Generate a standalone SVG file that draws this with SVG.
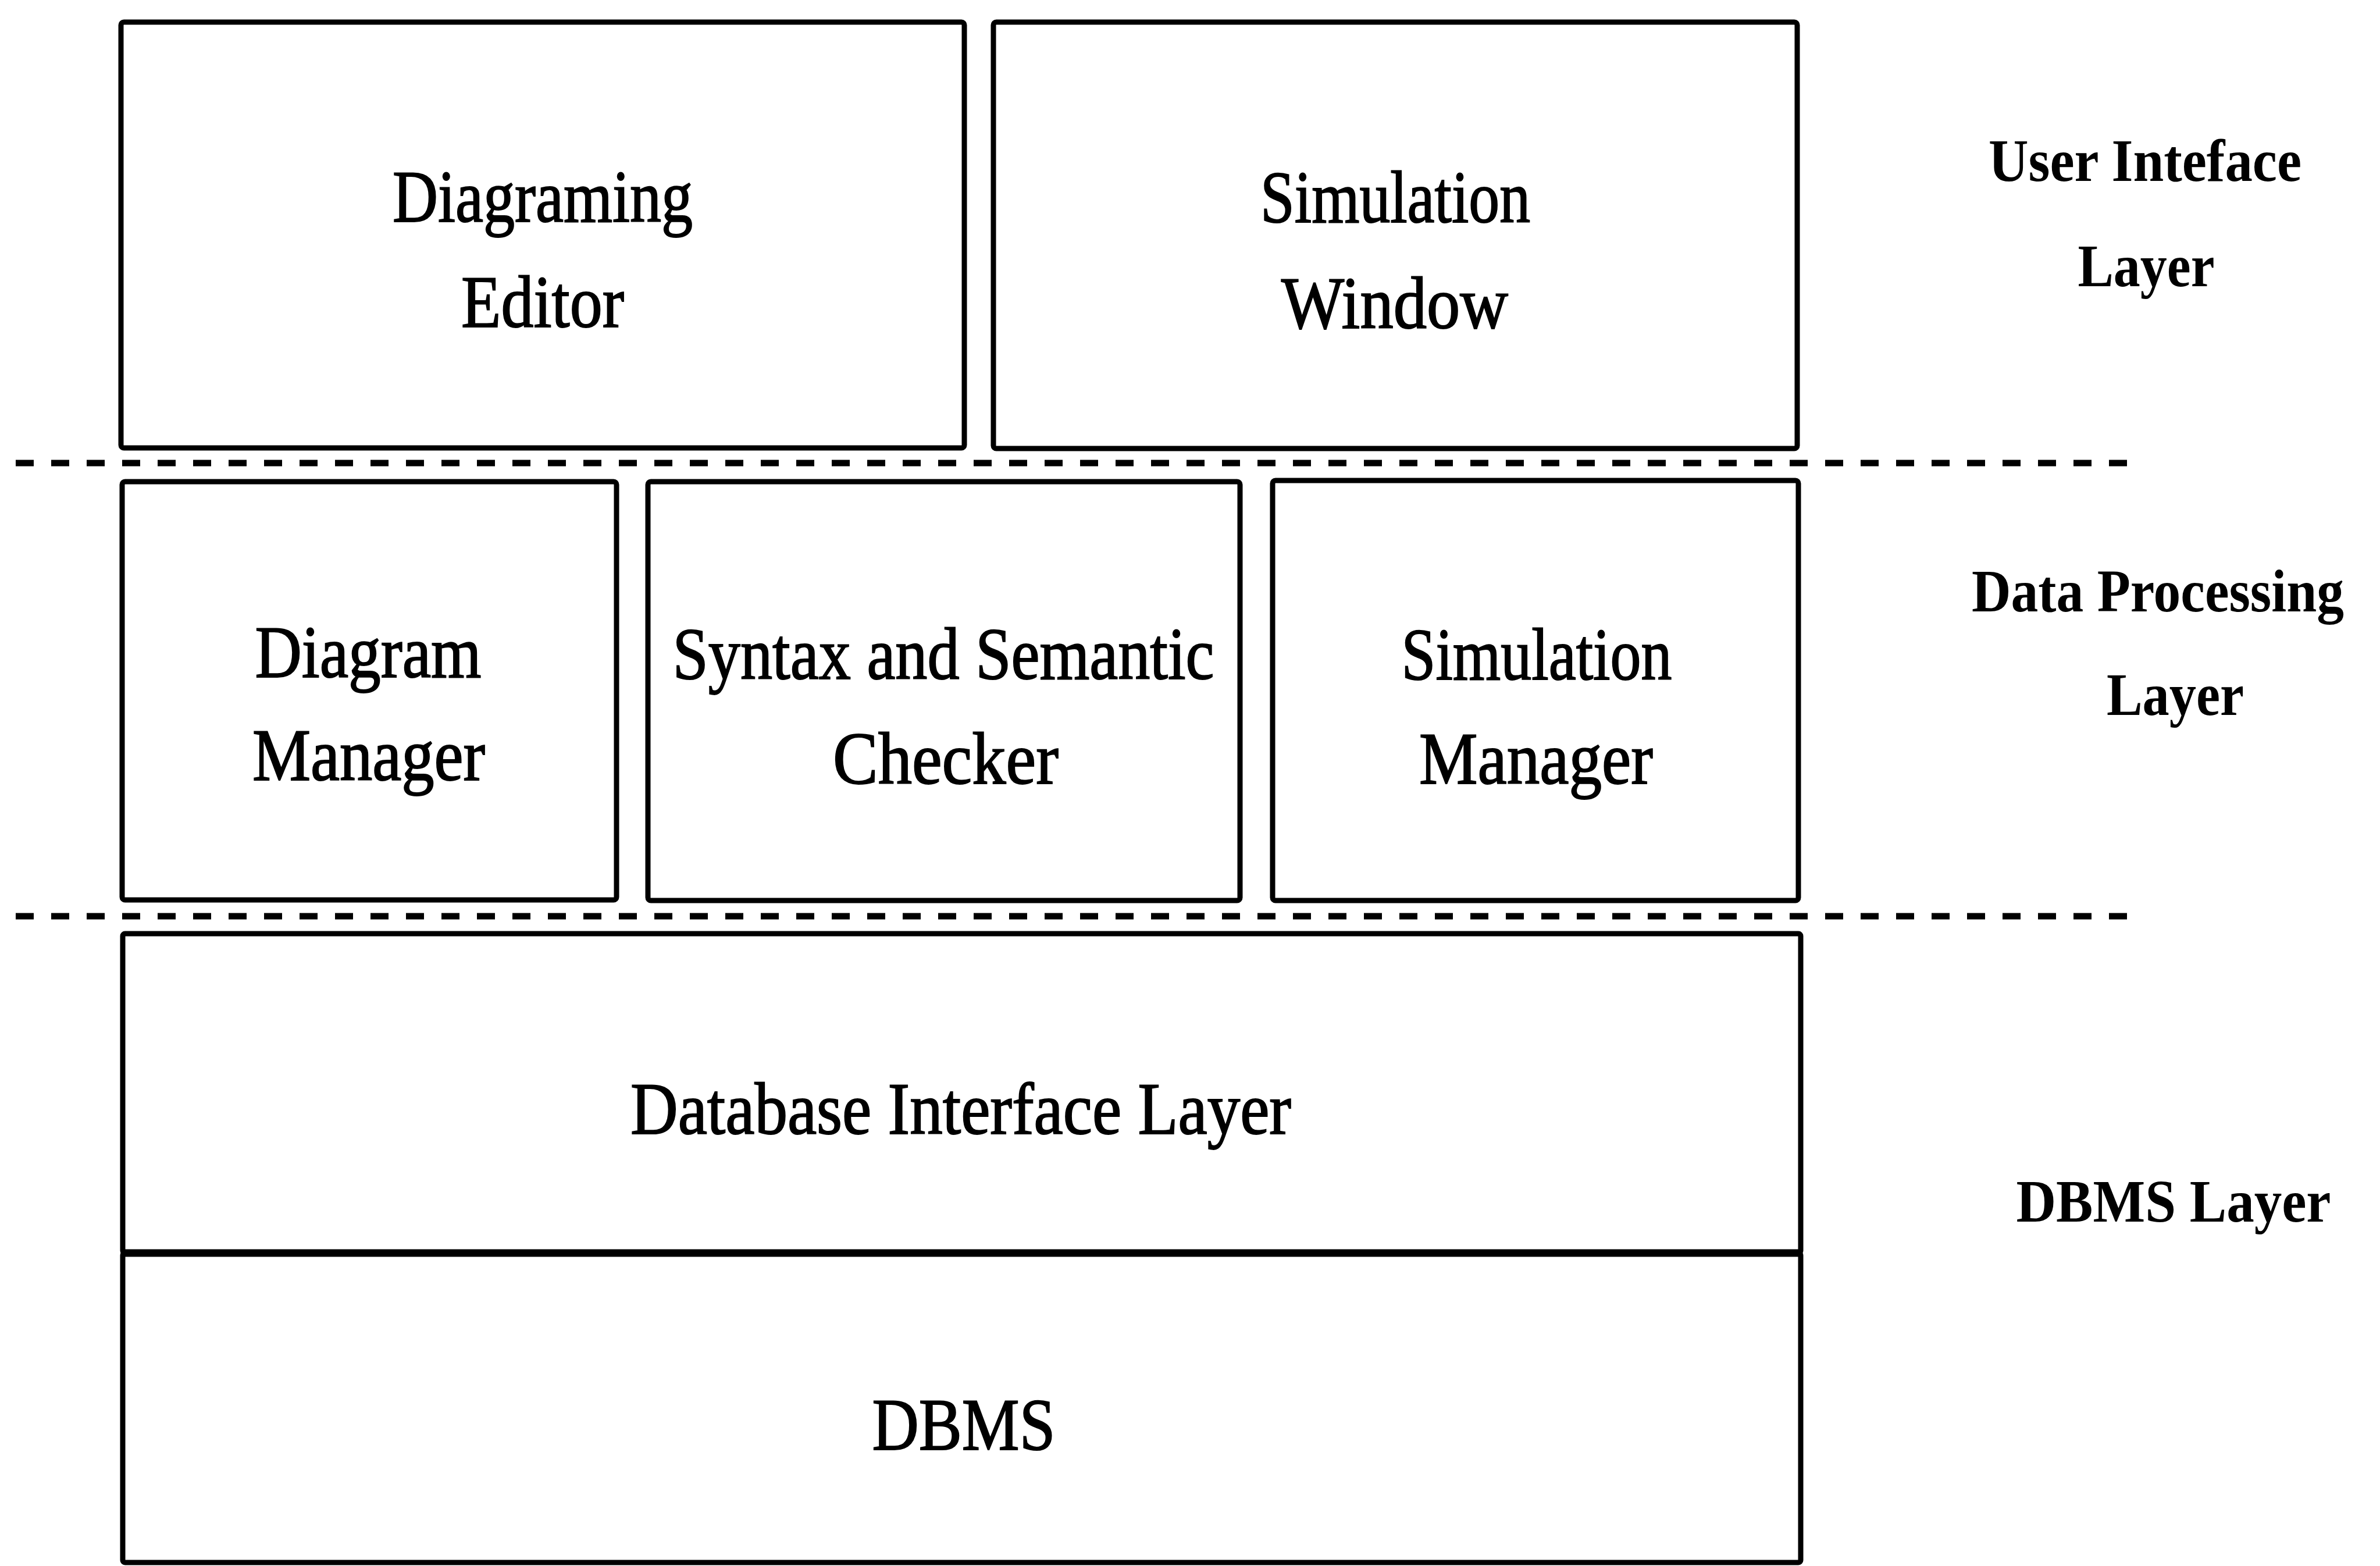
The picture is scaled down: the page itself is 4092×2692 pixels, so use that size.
<svg xmlns="http://www.w3.org/2000/svg" width="4092" height="2692" viewBox="0 0 4092 2692">
  <style>
    .box { fill: #ffffff; stroke: #000000; stroke-width: 9; }
    .lbl { font-family: "Liberation Serif", "Times New Roman", serif; font-size: 126px; fill: #000000; stroke: #000000; stroke-width: 2; text-anchor: middle; }
    .layer { font-family: "Liberation Serif", "Times New Roman", serif; font-size: 104px; font-weight: bold; fill: #000000; text-anchor: middle; }
    .sep { stroke: #000000; stroke-width: 11; stroke-dasharray: 31 30; fill: none; }
  </style>
  <rect x="0" y="0" width="4092" height="2692" fill="#ffffff"/>

  <!-- layer separators -->
  <g id="connectors">
    <line class="sep" x1="27" y1="796" x2="3660" y2="796"/>
    <line class="sep" x1="27" y1="1575" x2="3660" y2="1575"/>
  </g>

  <!-- user interface layer -->
  <g id="diagraming-editor">
    <rect class="box" x="208" y="38" width="1450" height="732" rx="5"/>
    <text class="lbl" x="933" y="381" textLength="516" lengthAdjust="spacingAndGlyphs">Diagraming</text>
    <text class="lbl" x="933" y="562" textLength="280" lengthAdjust="spacingAndGlyphs">Editor</text>
  </g>
  <g id="simulation-window">
    <rect class="box" x="1708" y="38" width="1382" height="733" rx="5"/>
    <text class="lbl" x="2399" y="382" textLength="464" lengthAdjust="spacingAndGlyphs">Simulation</text>
    <text class="lbl" x="2398" y="564" textLength="390" lengthAdjust="spacingAndGlyphs">Window</text>
  </g>

  <!-- data processing layer -->
  <g id="diagram-manager">
    <rect class="box" x="210" y="828" width="850" height="719" rx="5"/>
    <text class="lbl" x="633" y="1164" textLength="389" lengthAdjust="spacingAndGlyphs">Diagram</text>
    <text class="lbl" x="634" y="1341" textLength="400" lengthAdjust="spacingAndGlyphs">Manager</text>
  </g>
  <g id="syntax-semantic-checker">
    <rect class="box" x="1114" y="828" width="1018" height="720" rx="5"/>
    <text class="lbl" x="1622" y="1167" textLength="931" lengthAdjust="spacingAndGlyphs">Syntax and Semantic</text>
    <text class="lbl" x="1626" y="1347" textLength="388" lengthAdjust="spacingAndGlyphs">Checker</text>
  </g>
  <g id="simulation-manager">
    <rect class="box" x="2188" y="826" width="904" height="722" rx="5"/>
    <text class="lbl" x="2642" y="1168" textLength="465" lengthAdjust="spacingAndGlyphs">Simulation</text>
    <text class="lbl" x="2641" y="1347" textLength="402" lengthAdjust="spacingAndGlyphs">Manager</text>
  </g>

  <!-- DBMS layer -->
  <g id="database-interface-layer">
    <rect class="box" x="211" y="1605" width="2885" height="549" rx="4"/>
    <text class="lbl" x="1652" y="1949" textLength="1136" lengthAdjust="spacingAndGlyphs">Database Interface Layer</text>
  </g>
  <g id="dbms">
    <rect class="box" x="211" y="2154" width="2885" height="532" rx="4"/>
    <line x1="211" y1="2154" x2="3096" y2="2154" stroke="#000000" stroke-width="13"/>
    <text class="lbl" x="1657" y="2492" textLength="315" lengthAdjust="spacingAndGlyphs">DBMS</text>
  </g>

  <!-- layer captions -->
  <g id="ui-layer-label">
    <text class="layer" x="3688" y="311" textLength="538" lengthAdjust="spacingAndGlyphs">User Inteface</text>
    <text class="layer" x="3690" y="492" textLength="235" lengthAdjust="spacingAndGlyphs">Layer</text>
  </g>
  <g id="data-processing-layer-label">
    <text class="layer" x="3710" y="1051" font-size="96" textLength="640" lengthAdjust="spacingAndGlyphs">Data Processing</text>
    <text class="layer" x="3740" y="1229" textLength="236" lengthAdjust="spacingAndGlyphs">Layer</text>
  </g>
  <g id="dbms-layer-label">
    <text class="layer" x="3737" y="2100" textLength="541" lengthAdjust="spacingAndGlyphs">DBMS Layer</text>
  </g>
</svg>
